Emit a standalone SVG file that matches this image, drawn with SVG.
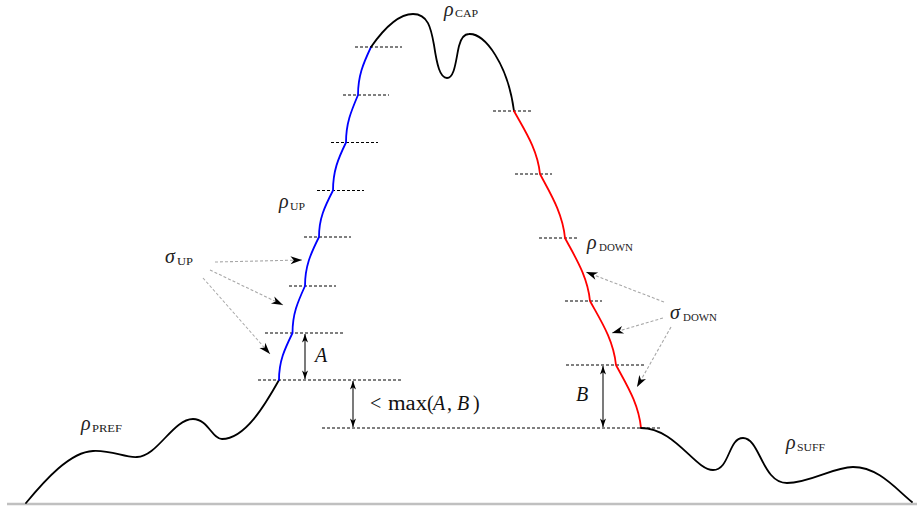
<svg xmlns="http://www.w3.org/2000/svg" width="917" height="510" viewBox="0 0 917 510">
<style>
.bg{fill:#ffffff}
.curve{fill:none;stroke:#000;stroke-width:1.8;stroke-linejoin:round;stroke-linecap:round}
.blue{stroke:#0000ff}
.red{stroke:#ff0000}
.lvl{stroke:#000;stroke-width:1;stroke-dasharray:3 2;fill:none}
.ground{stroke:#c0c0c0;stroke-width:2.5;fill:none}
.dim{stroke:#222;stroke-width:1.2;fill:none;marker-start:url(#dh);marker-end:url(#dh)}
.ptr{stroke:#a8a8a8;stroke-width:1.1;stroke-dasharray:3 2;fill:none;marker-end:url(#st)}
.g{font-family:"Liberation Serif","DejaVu Serif",serif;font-style:italic;font-size:20px;fill:#222}
.sub{font-family:"Liberation Serif","DejaVu Serif",serif;font-size:10px;fill:#222}
.m{font-family:"Liberation Serif","DejaVu Serif",serif;font-size:20px;fill:#111}
.mi{font-style:italic}
</style>
<defs>
<marker id="st" viewBox="-12 -4.5 13 9" refX="0" refY="0" markerWidth="13" markerHeight="9" orient="auto" markerUnits="userSpaceOnUse">
<path d="M0,0 L-11.5,-3.9 L-8.2,0 L-11.5,3.9 Z" fill="#000"/>
</marker>
<marker id="dh" viewBox="-9 -3.5 10 7" refX="0" refY="0" markerWidth="10" markerHeight="7" orient="auto-start-reverse" markerUnits="userSpaceOnUse">
<path d="M0,0 L-8.5,-3 L-6.2,0 L-8.5,3 Z" fill="#000"/>
</marker>
</defs>
<rect class="bg" x="0" y="0" width="917" height="510"/>

<line id="ground" class="ground" x1="7" y1="504" x2="917" y2="504"/>

<g id="levels">
<line class="lvl" x1="355" y1="47" x2="402" y2="47"/>
<line class="lvl" x1="343" y1="95" x2="389" y2="95"/>
<line class="lvl" x1="331" y1="142.5" x2="378" y2="142.5"/>
<line class="lvl" x1="317" y1="190.5" x2="364" y2="190.5"/>
<line class="lvl" x1="304" y1="237" x2="351" y2="237"/>
<line class="lvl" x1="289" y1="286" x2="336" y2="286"/>
<line class="lvl" x1="265" y1="333" x2="344" y2="333"/>
<line class="lvl" x1="258" y1="380" x2="403" y2="380"/>
<line class="lvl" x1="322" y1="428" x2="660" y2="428"/>
<line class="lvl" x1="493" y1="111" x2="531" y2="111"/>
<line class="lvl" x1="515" y1="174" x2="552" y2="174"/>
<line class="lvl" x1="539" y1="238" x2="577" y2="238"/>
<line class="lvl" x1="565" y1="301" x2="602" y2="301"/>
<line class="lvl" x1="566" y1="365" x2="644" y2="365"/>
</g>

<g id="rho-pref">
<path class="curve" d="M26,503 C45,480 70,452 93,451 C112,450 125,458 137,457 C157,457 173,419 193,419 C208,419 212,439 222,439 C245,439 265,405 279,380"/>
<text class="g" x="81" y="430">ρ</text><text class="sub" x="92" y="432" textLength="30" lengthAdjust="spacingAndGlyphs">PREF</text>
</g>

<g id="rho-up">
<path class="curve blue" d="M279,380 C279,361 284.5,349.5 292.5,333 C292.5,314 297.5,302.5 305,286 C305,266.5 310.5,254 319,237 C319,218.5 324.5,207 333,190.5 C333,171 338,159 346,142.5 C346,123.5 351,111.5 358,95 C358,76 363,64 371,47"/>
<text class="g" x="279" y="208">ρ</text><text class="sub" x="290" y="210" textLength="15" lengthAdjust="spacingAndGlyphs">UP</text>
</g>

<g id="rho-cap">
<path class="curve" d="M371,47 C385,27 400,14 413,14 C428,14 431,28 434,45 C437,65 440,78 447,78 C455,78 456,58 459,46 C461,38 464,34 469,34 C485,33 508,65 514,111"/>
<text class="g" x="444" y="16">ρ</text><text class="sub" x="455" y="17" textLength="23" lengthAdjust="spacingAndGlyphs">CAP</text>
</g>

<g id="rho-down">
<path class="curve red" d="M514,111 C524.4,130 537.5,149 540,174 C550,193 562.5,212.5 565,238 C575,257 587.5,276 590,301 C600.4,320 613.4,339.4 616,365 C626,384 638.5,402.8 641,428"/>
<text class="g" x="587" y="249">ρ</text><text class="sub" x="599" y="251" textLength="34" lengthAdjust="spacingAndGlyphs">DOWN</text>
</g>

<g id="rho-suff">
<path class="curve" d="M641,428 C675,428 695,470 713,470 C730,470 728,438 743,438 C760,438 762,483 787,483 C810,483 833,467 853,467 C878,467 895,488 912,502"/>
<text class="g" x="786" y="449">ρ</text><text class="sub" x="797" y="451" textLength="28" lengthAdjust="spacingAndGlyphs">SUFF</text>
</g>

<g id="sigma-up">
<text class="g" x="165" y="263">σ</text><text class="sub" x="177" y="265" textLength="16" lengthAdjust="spacingAndGlyphs">UP</text>
</g>

<g id="sigma-down">
<text class="g" x="670" y="319">σ</text><text class="sub" x="683" y="321" textLength="34" lengthAdjust="spacingAndGlyphs">DOWN</text>
</g>

<g id="label-A"><text class="m mi" x="315" y="362">A</text></g>
<g id="label-B"><text class="m mi" x="576" y="401">B</text></g>
<g id="label-max">
<text class="m" x="370" y="410">&lt;</text>
<text class="m" x="388" y="410" textLength="39" lengthAdjust="spacingAndGlyphs">max</text>
<text class="m" x="427" y="410">(</text>
<text class="m mi" x="433" y="410">A</text>
<text class="m" x="447" y="410">,</text>
<text class="m mi" x="457" y="410">B</text>
<text class="m" x="473" y="410">)</text>
</g>

<g id="connectors">
<line class="dim" x1="305" y1="334" x2="305" y2="379"/>
<line class="dim" x1="353" y1="381" x2="353" y2="427"/>
<line class="dim" x1="603" y1="366" x2="603" y2="427"/>
<line class="ptr" x1="215" y1="262" x2="302" y2="260"/>
<line class="ptr" x1="210" y1="270" x2="283" y2="305"/>
<line class="ptr" x1="203" y1="278" x2="270" y2="354"/>
<line class="ptr" x1="664" y1="302" x2="586" y2="272"/>
<line class="ptr" x1="663" y1="318" x2="612" y2="333"/>
<line class="ptr" x1="671" y1="327" x2="637" y2="387"/>
</g>
</svg>
